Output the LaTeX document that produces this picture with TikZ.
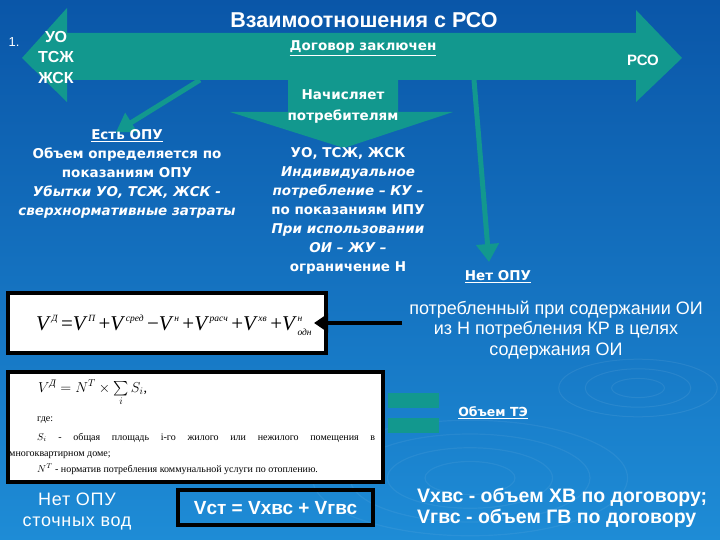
\documentclass[tikz,border=0pt]{standalone}
\usepackage{amsmath}
\usepackage{fontspec}
\setmainfont{Liberation Serif}
\newfontfamily\arialf{Liberation Sans}
\newfontfamily\verdf{DejaVu Sans}
\usetikzlibrary{arrows.meta}
\definecolor{tealA}{RGB}{18,152,142}
\definecolor{bgtop}{RGB}{10,86,168}
\definecolor{bgbot}{RGB}{30,140,214}
\newcommand{\cyrs}[1]{\text{\itshape #1}}
\newcommand{\supsz}{\fontsize{9.5}{9.5}\selectfont\itshape}
\newcommand{\fv}[1]{\textit{V}\kern0.5pt\raisebox{8.5pt}{\supsz #1}}
\newcommand{\fvs}[2]{\textit{V}\kern0.5pt\rlap{\raisebox{8.5pt}{\supsz #1}}\raisebox{-5pt}{\supsz #2}}
\tikzset{
  wt/.style={text=white, inner sep=0pt, align=center},
  vb/.style={wt, font=\verdf\bfseries\fontsize{13.5}{19}\selectfont},
  ab/.style={wt, font=\arialf\bfseries\fontsize{19}{21}\selectfont},
  ar/.style={wt, font=\arialf\fontsize{16}{21}\selectfont},
  thinarrow/.style={draw=tealA, line width=5pt, -{Triangle[length=18pt,width=22pt]}},
  blackarrow/.style={draw=black, line width=4pt, -{Triangle[length=14pt,width=18pt]}},
  wbox/.style={draw=black, line width=4pt, fill=white, inner sep=0pt},
  bbox/.style={draw=black, line width=4pt, inner sep=0pt},
  tealbar/.style={fill=tealA, draw=none, inner sep=0pt, minimum width=51pt, minimum height=15pt},
  small/.style={inner sep=0pt, anchor=base west, font=\fontsize{10}{12}\selectfont}
}
\begin{document}
\begin{tikzpicture}[x=1pt,y=-1pt]
\useasboundingbox (0,0) rectangle (720,540);
\shade[top color=bgtop, bottom color=bgbot] (0,0) rectangle (720,540);
% faint ripples
\foreach \r in {12,24,36}{
  \draw[white, opacity=0.07, line width=1pt] (638,388) ellipse ({\r*2.2pt} and {\r*0.8pt});
}
\foreach \r in {30,55,80,105}{
  \draw[white, opacity=0.06, line width=1.2pt] (470,478) ellipse ({\r*1.5pt} and {\r*0.55pt});
}
% big double arrow
\fill[tealA] (22,58) -- (67,8) -- (67,33) -- (636,33) -- (636,10) -- (682,58)
  -- (636,102) -- (636,80) -- (67,80) -- (67,102) -- cycle;
% callout
\fill[tealA] (288,80) -- (398,80) -- (398,112) -- (453,112) -- (344,148)
  -- (230,112) -- (288,112) -- cycle;
% title and arrow labels
\node[wt, font=\arialf\bfseries\fontsize{21.5}{24}\selectfont] (title) at (364,20) {Взаимоотношения с РСО};
\node[wt, font=\arialf\fontsize{13}{15}\selectfont] (num) at (14,42) {1.};
\node[wt, font=\arialf\bfseries\fontsize{16}{20.5}\selectfont] (uo) at (56,57) {УО\\ТСЖ\\ЖСК};
\node[vb] (dog) at (363,48) {\underline{Договор заключен}};
\node[wt, font=\arialf\bfseries\fontsize{15}{18}\selectfont] (rso) at (643,60) {РСО};
\node[vb, font=\verdf\bfseries\fontsize{13.5}{21}\selectfont] (nach) at (343,106) {Начисляет\\потребителям};
% connectors from the shaft
\coordinate (s1) at (200,80);
\coordinate (e1) at (116,132);
\coordinate (s2) at (474,80);
\coordinate (e2) at (489,262);
\draw[thinarrow] (s1) -- (e1);
\draw[thinarrow] (s2) -- (e2);
% left text
\node[vb] (left) at (127,173.5) {\underline{Есть ОПУ}\\Объем определяется по\\показаниям ОПУ\\
  {\itshape Убытки УО, ТСЖ, ЖСК -}\\{\itshape сверхнормативные затраты}};
% middle text
\node[vb] (mid) at (348,211) {УО, ТСЖ, ЖСК\\{\itshape Индивидуальное}\\{\itshape потребление – КУ –}\\
  по показаниям ИПУ\\{\itshape При использовании}\\{\itshape ОИ – ЖУ –}\\ограничение Н};
\node[vb] (net) at (498,277) {\underline{Нет ОПУ}};
\node[ar, font=\arialf\fontsize{18}{20.5}\selectfont] (potr) at (556,330) {потребленный при содержании ОИ\\из Н потребления КР в целях\\содержания ОИ};
% formula box 1
\node[wbox, minimum width=318pt, minimum height=60pt] (f1) at (167,323) {};
\node[inner sep=0pt, anchor=west, font=\fontsize{21}{24}\selectfont] (f1t) at (36,325)
  {\fv{Д}\,=\fv{П}\,+\fv{сред}\,\textminus\fv{н}\,+\fv{расч}\,+\fv{хв}\,+\fvs{н}{одн}};
\coordinate (ba) at (402,323);
\draw[blackarrow] (ba) -- ([xshift=-14pt]f1.east);
% formula box 2
\node[wbox, minimum width=375pt, minimum height=110pt] (f2) at (195.5,426.5) {};
\node[inner sep=0pt, anchor=base west, font=\fontsize{14}{16}\selectfont] (f2t) at (38,392)
  {$V^{\cyrs{Д}} = N^{T} \times \sum\limits_{i} S_{i}$,};
\node[small] (gde) at (37,421) {где:};
\node[small] (l1) at (37,440) {\makebox[338pt][s]{$S_i$ - общая площадь i-го жилого или нежилого помещения в}};
\node[small] (l2) at (9,456) {многоквартирном доме;};
\node[small] (l3) at (37,472) {$N^{T}$ - норматив потребления коммунальной услуги по отоплению.};
% equal bars
\node[tealbar] (b1) at (413,400) {};
\node[tealbar] (b2) at (413,425) {};
\node[vb, font=\verdf\bfseries\fontsize{12.5}{15}\selectfont] (te) at (493,413) {\underline{Объем ТЭ}};
% bottom row
\node[ar, font=\arialf\addfontfeatures{LetterSpace=4}\fontsize{18}{21}\selectfont] (stoch) at (77,512) {Нет ОПУ\\сточных вод};
\node[bbox, minimum width=195pt, minimum height=35pt] (vst) at (275.5,507.5) {};
\node[ab] (vstt) at (275.5,508) {Vст = Vхвс + Vгвс};
\node[ab, align=left, anchor=west, font=\arialf\bfseries\fontsize{19.5}{21}\selectfont] (leg) at (417,507.5) {Vхвс - объем ХВ по договору;\\Vгвс - объем ГВ по договору};
\end{tikzpicture}
\end{document}
